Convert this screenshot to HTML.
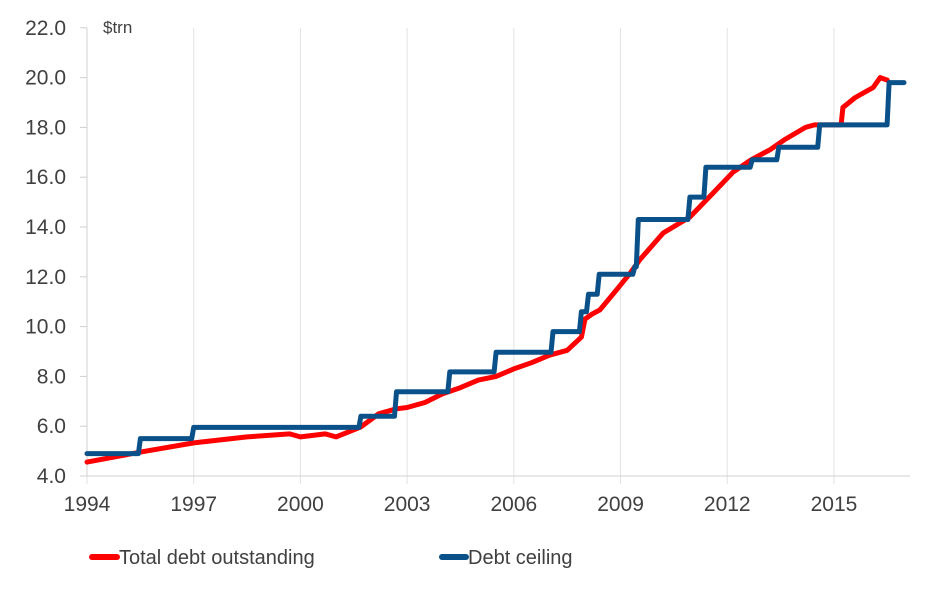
<!DOCTYPE html>
<html><head><meta charset="utf-8"><style>
html,body{margin:0;padding:0;background:#fff;}
svg{display:block;font-family:"Liberation Sans",Arial,sans-serif;}
</style></head><body>
<svg id="chart" width="944" height="615" viewBox="0 0 944 615" xmlns="http://www.w3.org/2000/svg">
<g id="grid"></g>
<g id="axes"></g>
<g id="series"></g>
<text x="103" y="33" font-size="17" fill="#404040">$trn</text>
<g>
<g>
<line x1="92" y1="557" x2="117" y2="557" stroke="#ff0000" stroke-width="6" stroke-linecap="round"/>
<text x="119" y="564" font-size="20" fill="#404040">Total debt outstanding</text></g>
<g>
<line x1="442" y1="557" x2="466" y2="557" stroke="#0b5189" stroke-width="6" stroke-linecap="round"/>
<text x="468" y="564" font-size="20" fill="#404040">Debt ceiling</text></g>
</g>
</svg>
<script>
const yTicks=[4,6,8,10,12,14,16,18,20,22];
const xTicks=[1994,1997,2000,2003,2006,2009,2012,2015];
const debtYears=[1994,1995.5,1997,1998.5,1999.7,2000,2000.7,2001,2001.7,2002.2,2002.7,2003,2003.5,2004,2004.5,2005,2005.5,2006,2006.5,2007,2007.5,2007.9,2008.0,2008.2,2008.42,2008.9,2009.27,2009.55,2010.2,2010.95,2011.6,2012.16,2012.67,2013.2,2013.6,2014.2,2014.45,2015.2,2015.25,2015.6,2016.1,2016.3,2016.5];
const debtValues=[4.56,4.96,5.33,5.57,5.69,5.57,5.69,5.57,5.97,6.5,6.7,6.75,6.95,7.3,7.55,7.85,8.0,8.3,8.55,8.85,9.05,9.58,10.3,10.5,10.67,11.5,12.15,12.7,13.76,14.4,15.36,16.2,16.7,17.1,17.5,18.0,18.1,18.1,18.8,19.2,19.6,20.0,19.9];
const ceilYears=[1994,1995.5,1997,2001.7,2002.7,2004.2,2005.5,2007.1,2007.9,2008.1,2008.4,2009.4,2009.5,2010.95,2011.4,2012.7,2013.45,2014.6,2016.55];
const ceilValues=[4.9,5.5,5.95,6.4,7.38,8.18,8.97,9.8,10.6,11.3,12.1,12.4,14.3,15.2,16.4,16.7,17.2,18.1,19.8];
const ceilEnd=2016.97;
const NS="http://www.w3.org/2000/svg";
const X=y=>87+(y-1994)*35.57;
const Y=v=>476-(v-4)*24.9;
function mk(tag,attrs,parent){const e=document.createElementNS(NS,tag);for(const k in attrs)e.setAttribute(k,attrs[k]);parent.appendChild(e);return e;}
const grid=document.getElementById('grid'),axes=document.getElementById('axes'),series=document.getElementById('series');
xTicks.forEach(t=>{
const g=mk('line',{x1:X(t),x2:X(t),y1:28,y2:484,stroke:'#e3e3e3','stroke-width':1},grid);


const l=mk('text',{x:X(t),y:511,'font-size':21,fill:'#404040','text-anchor':'middle'},axes);
l.textContent=t;


});
yTicks.forEach(t=>{
const l=mk('text',{x:66,y:Y(t)+7,'font-size':21,fill:'#404040','text-anchor':'end'},axes);
l.textContent=t.toFixed(1);


const tk=mk('line',{x1:80,x2:87,y1:Y(t),y2:Y(t),stroke:'#d0d0d0','stroke-width':1},axes);


});
const ya=mk('line',{x1:87,x2:87,y1:28,y2:476,stroke:'#d0d0d0','stroke-width':1},axes);


const xa=mk('line',{x1:87,x2:910,y1:476,y2:476,stroke:'#d0d0d0','stroke-width':1},axes);


let dp=debtYears.map((y,i)=>(i?'L':'M')+X(y).toFixed(1)+','+Y(debtValues[i]).toFixed(1)).join(' ');
const red=mk('path',{d:dp,fill:'none',stroke:'#ff0000','stroke-width':5,'stroke-linejoin':'round','stroke-linecap':'round'},series);


let cp='';
ceilYears.forEach((y,i)=>{
const nx=i<ceilYears.length-1?ceilYears[i+1]:ceilEnd;
cp+=(i?'L':'M')+X(y).toFixed(1)+','+Y(ceilValues[i]).toFixed(1)+' L'+(X(nx)-(i<ceilYears.length-1?2:0)).toFixed(1)+','+Y(ceilValues[i]).toFixed(1)+' ';
});
const blue=mk('path',{d:cp,fill:'none',stroke:'#0b5189','stroke-width':5,'stroke-linejoin':'round','stroke-linecap':'round'},series);


</script>
</body></html>
